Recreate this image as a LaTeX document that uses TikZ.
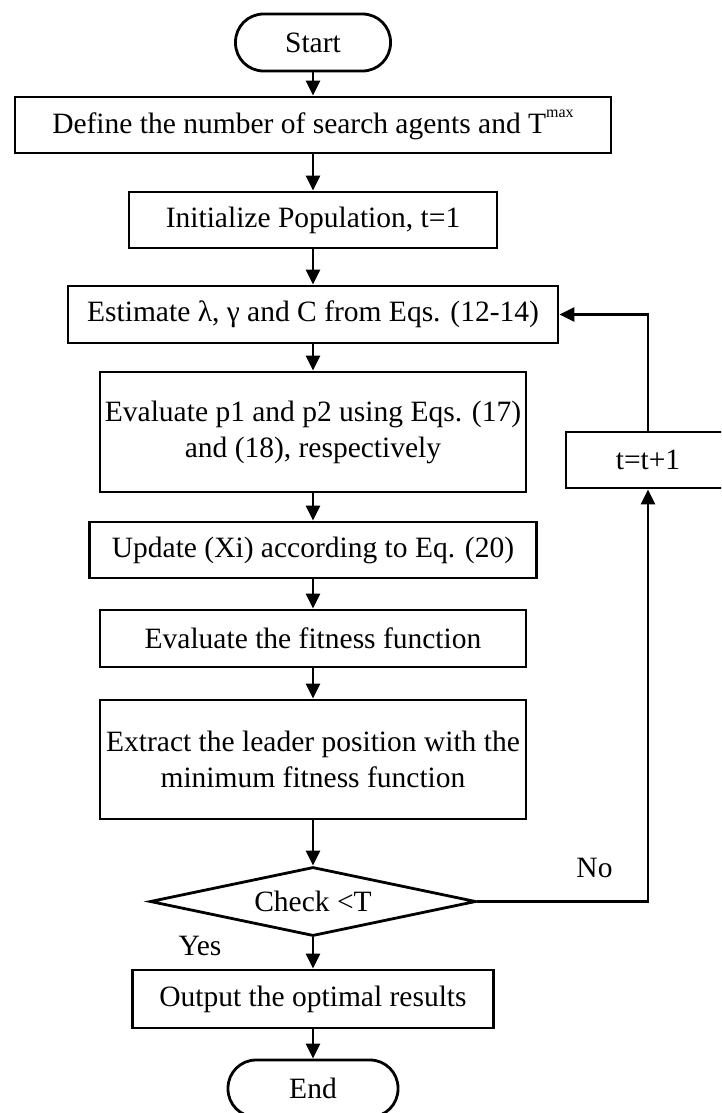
\documentclass[tikz,border=0pt]{standalone}
\usepackage{fontspec}
\setmainfont{Liberation Serif}
\usetikzlibrary{shapes.geometric,arrows.meta}
\tikzset{
  proc/.style={draw, line width=2.8pt, align=center, inner sep=0pt},
  term/.style={proc, rounded corners=28pt},
  decide/.style={draw, diamond, line width=2.8pt, inner sep=0pt, aspect=4.7},
  flow/.style={line width=2.5pt, -{Triangle[length=15pt,width=14pt]}},
}
\newcommand{\supmax}{\raisebox{0.55em}{\fontsize{16}{16}\selectfont max}}
\begin{document}
\begin{tikzpicture}[x=1pt,y=-1pt,font=\fontsize{29.5}{36}\selectfont]
      \clip (0,0) rectangle (721,1113);
      \fill[white] (0,0) rectangle (721,1113);
      \draw
        (313,42.5) node[term, minimum width=155pt, minimum height=57pt] (start){Start}
        (313,125) node[proc, minimum width=596pt, minimum height=56pt] (define){Define the number of search agents and T\supmax}
        (313,220) node[proc, minimum width=368pt, minimum height=56pt] (init){Initialize Population, t=1}
        (313,314.5) node[proc, minimum width=490pt, minimum height=57pt] (estimate){Estimate λ, γ and C from Eqs. (12-14)}
        (313,432) node[proc, minimum width=426pt, minimum height=120pt] (evalp){Evaluate p1 and p2 using Eqs. (17)\\ and (18), respectively}
        (313,550) node[proc, minimum width=447pt, minimum height=56pt] (update){Update (Xi) according to Eq. (20)}
        (313,638.5) node[proc, minimum width=426pt, minimum height=57pt] (fitness){Evaluate the fitness function}
        (313,759.5) node[proc, minimum width=426pt, minimum height=119pt] (extract){Extract the leader position with the\\ minimum fitness function}
        (313,901.5) node[decide, minimum width=326pt, minimum height=69pt] (check){Check <T}
        (313,999) node[proc, minimum width=361pt, minimum height=58pt] (output){Output the optimal results}
        (313,1088.5) node[term, minimum width=170pt, minimum height=57pt] (end){End}
        (648,460) node[proc, minimum width=164pt, minimum height=56pt] (tinc){t=t+1};
      \node (yes) at (200,946) {Yes};
      \node (no) at (594.5,868) {No};
      \begin{scope}[flow]
        \draw (start) to (define);
        \draw (define) to (init);
        \draw (init) to (estimate);
        \draw (estimate) to (evalp);
        \draw (evalp) to (update);
        \draw (update) to (fitness);
        \draw (fitness) to (extract);
        \draw (extract) to (check);
        \draw (check) to (output);
        \draw (output) to (end);
        \draw (check.east) -| (tinc.south);
        \draw (tinc.north) |- (estimate.east);
      \end{scope}
    \end{tikzpicture}
\end{document}
